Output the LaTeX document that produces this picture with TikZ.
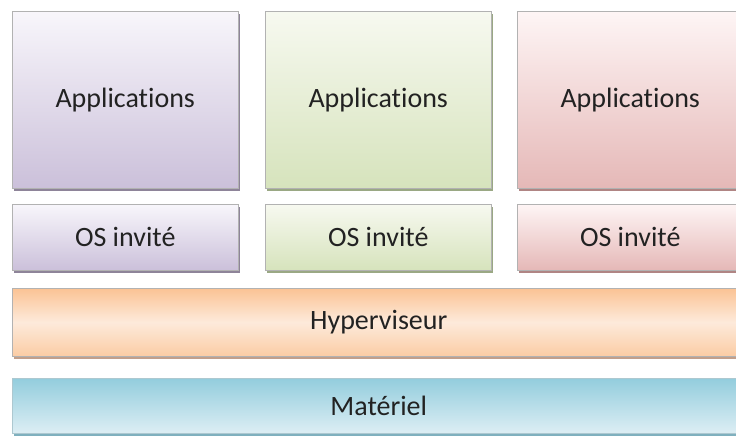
\documentclass[tikz,border=0pt]{standalone}
\usepackage{fontspec}
\setmainfont{Carlito}[Ligatures={NoCommon}]
\usetikzlibrary{shadows}
\definecolor{purpTop}{HTML}{F8F6FB}
\definecolor{purpBot}{HTML}{CBC0DA}
\definecolor{purpSh}{HTML}{8E8499}
\definecolor{grnTop}{HTML}{F7F9F0}
\definecolor{grnBot}{HTML}{D6E3BC}
\definecolor{grnSh}{HTML}{9AA884}
\definecolor{redTop}{HTML}{FEF5F5}
\definecolor{redBot}{HTML}{E5B8B7}
\definecolor{redSh}{HTML}{B08584}
\definecolor{orTop}{HTML}{FBC394}
\definecolor{orMid}{HTML}{FDEADB}
\definecolor{orBot}{HTML}{FBCCA4}
\definecolor{orSh}{HTML}{C29F8A}
\definecolor{blTop}{HTML}{93CDDD}
\definecolor{blBot}{HTML}{DDEEF4}
\definecolor{blSh}{HTML}{7FB0BE}
\definecolor{txt}{HTML}{222222}
\begin{document}
\begin{tikzpicture}[x=1pt,y=-1pt,
  box/.style={draw=black!30, line width=0.5pt, inner sep=0pt, anchor=north west,
    font=\fontsize{28}{32}\selectfont, text=txt},
  shad/.style={drop shadow={shadow xshift=1.5pt, shadow yshift=-3pt, opacity=1, fill=#1}},
  purplebox/.style={box, shad=purpSh, top color=purpTop, bottom color=purpBot},
  greenbox/.style={box, shad=grnSh, top color=grnTop, bottom color=grnBot},
  redbox/.style={box, shad=redSh, top color=redTop, bottom color=redBot},
  appbox/.style={minimum width=226pt, minimum height=177pt},
  osbox/.style={minimum width=226pt, minimum height=66pt},
  orangebox/.style={box, shad=orSh, top color=orTop, bottom color=orBot, middle color=orMid,
    minimum width=733pt, minimum height=68pt},
  bluebox/.style={box, shad=blSh, top color=blTop, bottom color=blBot, draw=blTop!80!black!60,
    minimum width=733pt, minimum height=55pt}]
\useasboundingbox (0,0) rectangle (736,437);
\clip (0,0) rectangle (736,437);
\fill[white] (0,0) rectangle (736,437);
\node[purplebox, appbox] (app1) at (12,11) {Applications};
\node[greenbox, appbox] (app2) at (265,11) {Applications};
\node[redbox, appbox] (app3) at (517,11) {Applications};
\node[purplebox, osbox] (os1) at (12,204) {OS invité};
\node[greenbox, osbox] (os2) at (265,204) {OS invité};
\node[redbox, osbox] (os3) at (517,204) {OS invité};
\node[orangebox] (hyp) at (12,288) {Hyperviseur};
\node[bluebox] (hw) at (12,378) {Matériel};
\end{tikzpicture}
\end{document}
